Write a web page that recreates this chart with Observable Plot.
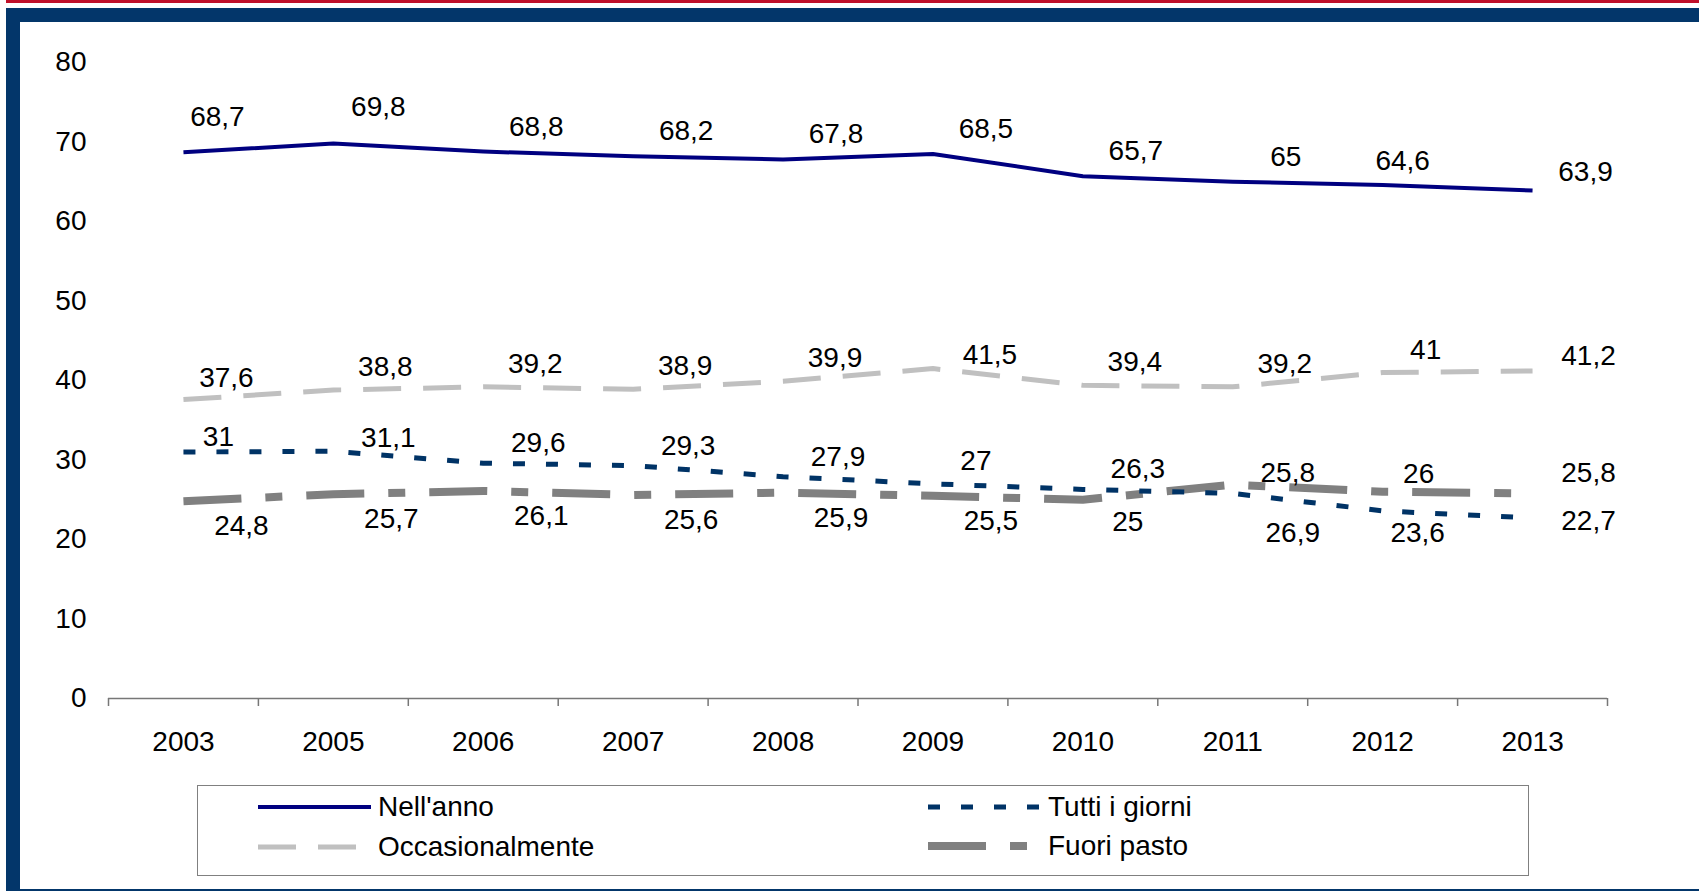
<!DOCTYPE html>
<html>
<head>
<meta charset="utf-8">
<script src="https://cdn.jsdelivr.net/npm/d3@7"></script>
<script src="https://cdn.jsdelivr.net/npm/@observablehq/plot@0.6"></script>
<style>
  html, body { margin: 0; padding: 0; background: #fff; }
  #page { position: relative; width: 1699px; height: 891px; overflow: hidden; font-family: "Liberation Sans", Arial, sans-serif; }
  .bar { position: absolute; }
  #chart { position: absolute; left: 0; top: 0; }
  #legend { position: absolute; left: 197px; top: 785px; width: 1330px; height: 89px; border: 1.5px solid #808080; background: #fff; }
  .lg { position: absolute; font-size: 28px; color: #000; line-height: 28px; white-space: nowrap; }
  .sw { position: absolute; }
</style>
</head>
<body>
<div id="page">
  <div class="bar" style="left:6px;top:0;right:0;height:3px;background:#C0102A"></div>
  <div class="bar" style="left:6px;top:8px;right:0;height:14px;background:#03366A"></div>
  <div class="bar" style="left:6px;top:8px;width:14px;bottom:0;background:#03366A"></div>
  <div class="bar" style="left:6px;top:889px;right:0;height:2px;background:#03366A"></div>
  <div id="chart"></div>
  <div id="legend"></div>
</div>
<script>
// ---- data ----
const years = ["2003", "2005", "2006", "2007", "2008", "2009", "2010", "2011", "2012", "2013"];
const seriesNames = ["Nell'anno", "Occasionalmente", "Tutti i giorni", "Fuori pasto"];
const nellAnno = [68.7, 69.8, 68.8, 68.2, 67.8, 68.5, 65.7, 65, 64.6, 63.9];
const occasionalmente = [37.6, 38.8, 39.2, 38.9, 39.9, 41.5, 39.4, 39.2, 41, 41.2];
const tuttiIGiorni = [31, 31.1, 29.6, 29.3, 27.9, 27, 26.3, 25.8, 23.6, 22.7];
const fuoriPasto = [24.8, 25.7, 26.1, 25.6, 25.9, 25.5, 25, 26.9, 26, 25.8];
const yTicks = [0, 10, 20, 30, 40, 50, 60, 70, 80];

// ---- styles ----
const styles = {
  "Nell'anno": {stroke: "#000080", strokeWidth: 4, dash: null},
  "Occasionalmente": {stroke: "#C0C0C0", strokeWidth: 5, dash: "38,22"},
  "Tutti i giorni": {stroke: "#003366", strokeWidth: 5, dash: "12,21"},
  "Fuori pasto": {stroke: "#808080", strokeWidth: 8, dash: "58,24,17,24"}
};
// label placement (pixel offsets), default per series with per-year exceptions
const labelPlacement = {
  "Nell'anno": {def: [53, -25], ex: {"2003": [34, -35], "2005": [45, -37], "2012": [20, -24], "2013": [53, -18]}},
  "Occasionalmente": {def: [52, -23], ex: {"2003": [43, -22], "2009": [57, -14], "2012": [43, -23], "2013": [56, -15]}},
  "Tutti i giorni": {def: [55, -20], ex: {"2003": [35, -15], "2005": [55, -13], "2009": [43, -23], "2012": [35, 22], "2013": [56, 3]}},
  "Fuori pasto": {def: [58, 25], ex: {"2010": [45, 22], "2011": [60, 48], "2012": [36, -18], "2013": [56, -20]}}
};

const valuesBy = {
  "Nell'anno": nellAnno,
  "Occasionalmente": occasionalmente,
  "Tutti i giorni": tuttiIGiorni,
  "Fuori pasto": fuoriPasto
};

const rows = [];
for (const s of seriesNames) {
  valuesBy[s].forEach((v, i) => rows.push({series: s, year: years[i], i, value: v}));
}
const fmt = v => String(v).replace(".", ",");

const marks = [];
// axis
marks.push(Plot.axisY({ticks: yTicks, tickSize: 0, tickPadding: 22, fontSize: 28, label: null}));
marks.push(Plot.axisX({ticks: d3.range(0, 10), tickSize: 0, tickPadding: 33, fontSize: 28, tickFormat: i => years[i], label: null}));
marks.push(Plot.axisX({ticks: d3.range(-0.5, 10, 1), tickSize: 8, tickFormat: () => "", stroke: "#777", strokeWidth: 1.5, label: null}));
marks.push(Plot.ruleY([0], {stroke: "#777", strokeWidth: 1.5}));

// lines (drawn in reverse so Nell'anno/Occ on top order like Excel)
for (const s of ["Fuori pasto", "Tutti i giorni", "Occasionalmente", "Nell'anno"]) {
  const st = styles[s];
  marks.push(Plot.lineY(rows.filter(r => r.series === s), {
    x: "i", y: "value", stroke: st.stroke, strokeWidth: st.strokeWidth,
    strokeDasharray: st.dash, strokeLinecap: "butt", strokeLinejoin: "round"
  }));
}
// labels
for (const r of rows) {
  const p = labelPlacement[r.series];
  const [dx, dy] = p.ex[r.year] || p.def;
  marks.push(Plot.text([r], {
    x: "i", y: "value", text: d => fmt(d.value), dx, dy,
    fontSize: 28, fill: "#000", textAnchor: "middle", lineAnchor: "middle"
  }));
}

const chart = Plot.plot({
  width: 1699,
  height: 780,
  marginLeft: 108,
  marginRight: 92,
  marginTop: 62,
  marginBottom: 82,
  style: {fontFamily: "'Liberation Sans', Arial, sans-serif", background: "transparent", overflow: "visible"},
  x: {type: "linear", domain: [-0.5, 9.5]},
  y: {domain: [0, 80]},
  marks
});
document.getElementById("chart").appendChild(chart);

// legend
const legend = document.getElementById("legend");
const legendPos = [
  {s: "Nell'anno", sx: 60, tx: 180, cy: 21},
  {s: "Tutti i giorni", sx: 730, tx: 850, cy: 21},
  {s: "Occasionalmente", sx: 60, tx: 180, cy: 61},
  {s: "Fuori pasto", sx: 730, tx: 850, cy: 60}
];
for (const L of legendPos) {
  const st = styles[L.s];
  const svg = d3.create("svg").attr("class", "sw").attr("width", 113).attr("height", 20)
    .style("left", L.sx + "px").style("top", (L.cy - 10) + "px");
  svg.append("line").attr("x1", 0).attr("x2", 113).attr("y1", 10).attr("y2", 10)
    .attr("stroke", st.stroke).attr("stroke-width", st.strokeWidth)
    .attr("stroke-dasharray", st.dash).attr("stroke-linecap", L.s === "Nell'anno" ? "round" : "butt");
  legend.appendChild(svg.node());
  const t = document.createElement("div");
  t.className = "lg";
  t.textContent = L.s;
  t.style.left = L.tx + "px";
  t.style.top = (L.cy - 14) + "px";
  legend.appendChild(t);
}
</script>
</body>
</html>
